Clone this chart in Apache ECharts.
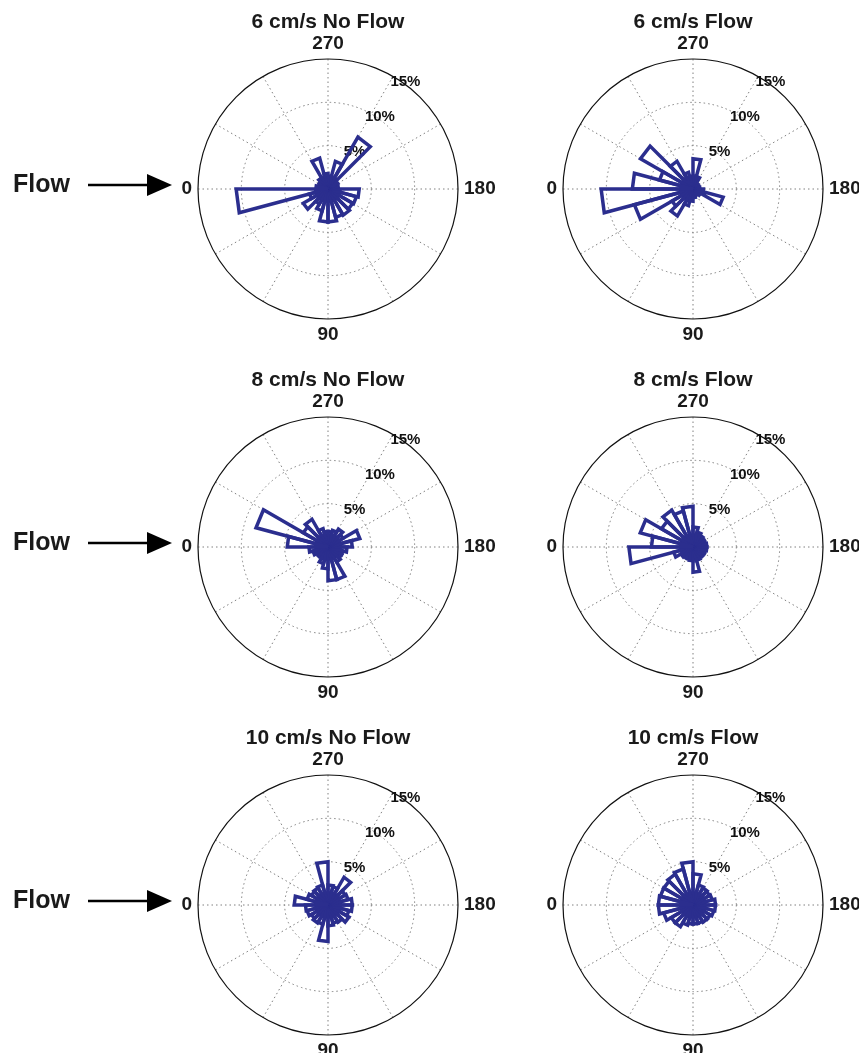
<!DOCTYPE html>
<html>
<head>
<meta charset="utf-8">
<script src="https://cdn.jsdelivr.net/npm/echarts@6/dist/echarts.min.js"></script>
<style>
html,body{margin:0;padding:0;background:#fff;}
#c{width:859px;height:1053px;}
</style>
</head>
<body>
<div id="c"></div>
<script>
// ---------- data ----------
const titles = ['6 cm/s No Flow', '6 cm/s Flow', '8 cm/s No Flow', '8 cm/s Flow', '10 cm/s No Flow', '10 cm/s Flow'];
// start angle (deg) of each 15-degree bin
const binStarts = [0, 15, 30, 45, 60, 75, 90, 105, 120, 135, 150, 165,
                   180, 195, 210, 225, 240, 255, 270, 285, 300, 315, 330, 345];
const angleTicks = [0, 90, 180, 270];
const ringTicks = [5, 10, 15];
const sideLabel = 'Flow';

// percent of observations in each bin
const noFlow6 = [10.6, 2.2, 3.3, 2.0, 2.6, 3.8, 3.8, 3.4, 3.5, 3.3, 3.4, 3.6,
                 1.2, 1.0, 1.3, 6.9, 3.3, 1.5, 1.8, 3.7, 1.5, 1.2, 1.0, 1.4];
const flow6   = [10.6, 7.0, 2.8, 3.6, 2.0, 1.4, 1.0, 0.8, 0.8, 1.0, 3.6, 1.2,
                 0.8, 0.7, 0.7, 0.8, 1.5, 3.5, 1.5, 2.0, 3.7, 7.0, 4.0, 7.0];
const noFlow8 = [2.2, 1.8, 1.5, 1.5, 2.0, 2.5, 3.9, 3.9, 2.0, 1.8, 1.8, 2.2,
                 2.8, 3.8, 2.0, 2.4, 2.0, 1.8, 1.8, 2.2, 3.7, 3.3, 8.6, 4.7];
const flow8   = [7.4, 2.3, 1.6, 1.5, 1.5, 1.6, 2.9, 1.6, 1.5, 1.5, 1.5, 1.6,
                 1.6, 1.5, 1.5, 1.6, 1.8, 2.3, 4.7, 4.3, 4.9, 4.2, 6.3, 4.8];
const noFlow10 = [2.6, 2.5, 2.2, 2.4, 2.3, 4.2, 2.4, 2.2, 2.3, 2.8, 2.5, 2.8,
                  2.8, 2.4, 2.3, 3.7, 2.2, 2.3, 5.0, 2.4, 2.3, 2.2, 2.5, 3.9];
const flow10   = [4.0, 3.5, 2.9, 2.9, 2.4, 2.2, 2.2, 2.2, 2.3, 2.3, 2.5, 2.6,
                  2.6, 2.3, 2.2, 2.3, 2.4, 3.6, 5.0, 4.3, 4.1, 3.9, 3.9, 4.0];

const panels = [noFlow6, flow6, noFlow8, flow8, noFlow10, flow10];

// ---------- layout / style ----------
const FONT = '"Liberation Sans", Arial, Helvetica, sans-serif';
const BLUE = '#2B2E8E';
const GRID = '#808080';
const R = 130;
const colX = [328, 693];
const rowY = [189, 547, 905];
const BIN = binStarts[1] - binStarts[0];
const LABEL_ANGLE = 234;

const chart = echarts.init(document.getElementById('c'));
const polar = [], angleAxis = [], radiusAxis = [], series = [], title = [], graphic = [];

panels.forEach((vals, i) => {
  const cx = colX[i % 2], cy = rowY[Math.floor(i / 2)];
  polar.push({ center: [cx, cy], radius: R });
  title.push({
    text: titles[i], left: cx, top: cy - 177, textAlign: 'center', padding: 0,
    textStyle: { fontFamily: FONT, fontSize: 21, fontWeight: 'bold', color: '#1a1a1a' }
  });
  angleAxis.push({
    polarIndex: i, type: 'value', min: 0, max: 360, interval: 30,
    startAngle: 180, clockwise: false,
    axisLine: { show: true, lineStyle: { color: '#111', width: 1.2 } },
    axisTick: { show: false },
    axisLabel: {
      margin: 6, fontFamily: FONT, fontSize: 19, fontWeight: 'bold', color: '#1a1a1a',
      formatter: v => angleTicks.indexOf(v) >= 0 ? String(v) : ''
    },
    splitLine: { show: true, lineStyle: { type: [1.5, 3], color: GRID, width: 1 } }
  });
  radiusAxis.push({
    polarIndex: i, type: 'value', min: 0, max: ringTicks[ringTicks.length - 1], interval: ringTicks[0],
    axisLine: { show: false }, axisTick: { show: false }, axisLabel: { show: false },
    splitLine: { show: true, lineStyle: { type: [1.5, 3], color: ['rgba(0,0,0,0)', GRID, GRID, 'rgba(0,0,0,0)'], width: 1 } }
  });
  series.push({
    type: 'scatter', coordinateSystem: 'polar', polarIndex: i, silent: true, z: 1,
    symbolSize: 0, itemStyle: { color: '#000', opacity: 1 },
    data: ringTicks.map(t => [t, LABEL_ANGLE]),
    label: {
      show: true, position: [0, 0], align: 'center', verticalAlign: 'middle', offset: [1, -2],
      formatter: p => p.value[0] + '%', opacity: 1,
      fontFamily: FONT, fontSize: 15, fontWeight: 'bold', color: '#111', textBorderWidth: 0
    }
  });
  series.push({
    type: 'custom', coordinateSystem: 'polar', polarIndex: i, silent: true, z: 3,
    data: vals.map((v, k) => [v, binStarts[k]]),
    encode: { radius: 0, angle: 1 },
    renderItem: (params, api) => {
      const r = api.value(0), a0 = api.value(1), a1 = a0 + BIN;
      const o = api.coord([0, a0]), p = api.coord([r, a0]), q = api.coord([r, a1]);
      return {
        type: 'polygon',
        shape: { points: [[o[0], o[1]], [p[0], p[1]], [q[0], q[1]]] },
        style: { fill: 'none', stroke: BLUE, lineWidth: 3.5, lineJoin: 'miter', miterLimit: 4 }
      };
    }
  });
});

rowY.forEach(cy => {
  const y = cy - 4;
  graphic.push({
    type: 'text', x: 13, y: y, silent: true,
    style: { text: sideLabel, font: 'bold 25px ' + FONT, fill: '#1a1a1a', verticalAlign: 'middle', align: 'left' }
  });
  graphic.push({
    type: 'line', silent: true,
    shape: { x1: 88, y1: y, x2: 150, y2: y },
    style: { stroke: '#000', lineWidth: 2.5 }
  });
  graphic.push({
    type: 'polygon', silent: true,
    shape: { points: [[147, y - 11], [172, y], [147, y + 11]] },
    style: { fill: '#000' }
  });
});

chart.setOption({
  animation: false,
  backgroundColor: '#fff',
  title, polar, angleAxis, radiusAxis, series, graphic
});
</script>
</body>
</html>
